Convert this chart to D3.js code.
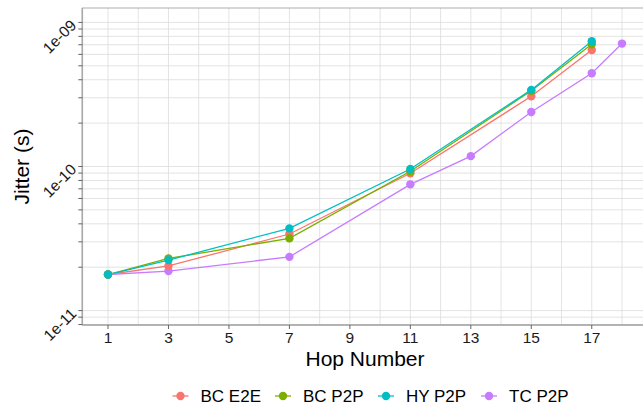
<!DOCTYPE html>
<html>
<head>
<meta charset="utf-8">
<script src="https://cdnjs.cloudflare.com/ajax/libs/d3/7.8.5/d3.min.js"></script>
<style>
  body { margin: 0; background: #fff; }
  svg { font-family: "Liberation Sans", Arial, sans-serif; }
</style>
</head>
<body>
<div id="chart"></div>
<script>
// series names, in legend order
const seriesNames = ["BC E2E", "BC P2P", "HY P2P", "TC P2P"];
const seriesColors = ["#F8766D", "#7CAE00", "#00BFC4", "#C77CFF"];

// hop numbers per series
const hopsBC = [1, 3, 7, 11, 15, 17];
const hopsTC = [1, 3, 7, 11, 13, 15, 17, 18];

// jitter values (s)
const bcE2E = [1.78e-11, 2.04e-11, 3.40e-11, 8.97e-11, 3.07e-10, 6.44e-10];
const bcP2P = [1.78e-11, 2.30e-11, 3.17e-11, 9.27e-11, 3.35e-10, 7.06e-10];
const hyP2P = [1.78e-11, 2.24e-11, 3.72e-11, 9.61e-11, 3.40e-10, 7.40e-10];
const tcP2P = [1.78e-11, 1.88e-11, 2.36e-11, 7.52e-11, 1.18e-10, 2.39e-10, 4.44e-10, 7.13e-10];

const xTicks = [1, 3, 5, 7, 9, 11, 13, 15, 17];
const xMinor = [2, 4, 6, 8, 10, 12, 14, 16, 18];
const yLabels = ["1e-11", "1e-10", "1e-09"];

const series = [
  { name: seriesNames[0], color: seriesColors[0], x: hopsBC, y: bcE2E },
  { name: seriesNames[1], color: seriesColors[1], x: hopsBC, y: bcP2P },
  { name: seriesNames[2], color: seriesColors[2], x: hopsBC, y: hyP2P },
  { name: seriesNames[3], color: seriesColors[3], x: hopsTC, y: tcP2P }
].map(s => ({ ...s, pts: s.x.map((h, i) => ({ h: h, v: s.y[i] })) }));

const W = 643, H = 408;
const margin = { left: 82.3, top: 8, right: -4.7, bottom: 83 };
const pw = W - margin.left - margin.right;
const ph = H - margin.top - margin.bottom;

const svg = d3.select("#chart").append("svg")
  .attr("width", W).attr("height", H);

// x: data 1..18 with 5% expansion
const xr = 18 - 1;
const x = d3.scaleLinear().domain([1 - 0.05 * xr, 18 + 0.05 * xr]).range([0, pw]);
// y: log limits 1e-11..1e-9 with 5% expansion (in log space)
const y = d3.scaleLog().domain([Math.pow(10, -11.1), Math.pow(10, -8.9)]).range([ph, 0]);

const g = svg.append("g").attr("transform", `translate(${margin.left},${margin.top})`);

// y breaks at 1..9 x 10^k
const yBreaks = [];
for (let k = -12; k <= -9; k++) {
  for (let m = 1; m <= 9; m++) {
    const v = m * Math.pow(10, k);
    if (v >= y.domain()[0] && v <= y.domain()[1]) yBreaks.push(v);
  }
}

// grid
g.append("g").selectAll("line").data(yBreaks).join("line")
  .attr("x1", 0).attr("x2", pw)
  .attr("y1", d => y(d)).attr("y2", d => y(d))
  .attr("stroke", "#dcdcdc").attr("stroke-width", 0.8);
g.append("g").selectAll("line").data(xMinor.concat(xTicks)).join("line")
  .attr("x1", d => x(d)).attr("x2", d => x(d))
  .attr("y1", 0).attr("y2", ph)
  .attr("stroke", "#dcdcdc").attr("stroke-width", 0.8);

// panel border
g.append("rect").attr("width", pw).attr("height", ph)
  .attr("fill", "none").attr("stroke", "#9a9a9a").attr("stroke-width", 0.8);
g.append("line").attr("x1", 0).attr("x2", 0).attr("y1", 0).attr("y2", ph)
  .attr("stroke", "#aaaaaa").attr("stroke-width", 1.6);
g.append("line").attr("x1", 0).attr("x2", pw).attr("y1", ph).attr("y2", ph)
  .attr("stroke", "#aaaaaa").attr("stroke-width", 1.6);

// y ticks
g.append("g").selectAll("line").data(yBreaks).join("line")
  .attr("x1", -4).attr("x2", 0)
  .attr("y1", d => y(d)).attr("y2", d => y(d))
  .attr("stroke", "#555").attr("stroke-width", 0.9);
g.append("g").selectAll("text").data(yLabels).join("text")
  .attr("transform", d => `translate(-5,${y(+d) + 4}) rotate(-45)`)
  .attr("text-anchor", "end")
  .attr("font-size", 15.5).attr("fill", "#1a1a1a")
  .text(d => d);

// x ticks
g.append("g").selectAll("line").data(xTicks).join("line")
  .attr("x1", d => x(d)).attr("x2", d => x(d))
  .attr("y1", ph).attr("y2", ph + 4)
  .attr("stroke", "#555").attr("stroke-width", 0.9);
g.append("g").selectAll("text").data(xTicks).join("text")
  .attr("x", d => x(d)).attr("y", ph + 18)
  .attr("text-anchor", "middle")
  .attr("font-size", 15.5).attr("fill", "#1a1a1a")
  .text(d => d);

// axis titles
svg.append("text")
  .attr("x", margin.left + pw / 2).attr("y", 366)
  .attr("text-anchor", "middle").attr("font-size", 21).attr("fill", "#000")
  .text("Hop Number");
svg.append("text")
  .attr("transform", `translate(29,${margin.top + ph / 2}) rotate(-90)`)
  .attr("text-anchor", "middle").attr("font-size", 21).attr("fill", "#000")
  .text("Jitter (s)");

// lines
const line = d3.line().x(d => x(d.h)).y(d => y(d.v));
g.append("g").selectAll("path").data(series).join("path")
  .attr("d", d => line(d.pts))
  .attr("fill", "none").attr("stroke", d => d.color).attr("stroke-width", 1.3);

// points (drawn so cyan ends on top at hop 1)
const drawOrder = [3, 0, 1, 2];
drawOrder.forEach(i => {
  const s = series[i];
  g.append("g").selectAll("circle").data(s.pts).join("circle")
    .attr("cx", d => x(d.h)).attr("cy", d => y(d.v))
    .attr("r", 4.2).attr("fill", s.color);
});

// legend
const legendX = [180.5, 283, 386, 489];
const leg = svg.append("g").selectAll("g").data(series).join("g")
  .attr("transform", (d, i) => `translate(${legendX[i]},396)`);
leg.append("line").attr("x1", -8).attr("x2", 8)
  .attr("stroke", d => d.color).attr("stroke-width", 1.3);
leg.append("circle").attr("r", 4.2).attr("fill", d => d.color);
leg.append("text").attr("x", 20).attr("y", 6)
  .attr("font-size", 17).attr("fill", "#000")
  .text(d => d.name);
</script>
</body>
</html>
